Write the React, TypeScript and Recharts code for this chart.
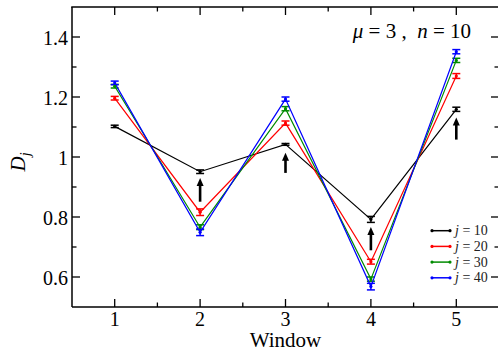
import React from 'react';
import { LineChart, Line, XAxis, YAxis, ErrorBar, ReferenceLine, Label } from 'recharts';

const FONT = '"Liberation Serif", "Times New Roman", serif';

// window index on the x axis
const windows = [1, 2, 3, 4, 5];

// D_j per window, with its error, for each j
const dj10 = [1.102, 0.951, 1.042, 0.792, 1.159];
const err10 = [0.004, 0.006, 0.003, 0.01, 0.007];
const dj20 = [1.196, 0.816, 1.113, 0.651, 1.27];
const err20 = [0.006, 0.011, 0.007, 0.008, 0.008];
const dj30 = [1.236, 0.766, 1.161, 0.593, 1.322];
const err30 = [0.006, 0.008, 0.007, 0.007, 0.007];
const dj40 = [1.247, 0.749, 1.193, 0.568, 1.351];
const err40 = [0.006, 0.011, 0.007, 0.011, 0.007];

// upward arrows under the j = 10 points
const arrowX = [2, 3, 4, 5];
const arrowFrom = [0.851, 0.947, 0.689, 1.058];
const arrowTo = [0.93, 1.014, 0.767, 1.132];

const xDomain = [0.5, 5.5];
const xTicks = [1, 1.5, 2, 2.5, 3, 3.5, 4, 4.5, 5];
const yTicks = [0.6, 0.7, 0.8, 0.9, 1, 1.1, 1.2, 1.3, 1.4];
const yDomain = [0.5, 1.5];

const series = [
  { key: 'j10', err: 'e10', name: 'j = 10', label: '10', color: '#000000' },
  { key: 'j20', err: 'e20', name: 'j = 20', label: '20', color: '#ff0000' },
  { key: 'j30', err: 'e30', name: 'j = 30', label: '30', color: '#008b00' },
  { key: 'j40', err: 'e40', name: 'j = 40', label: '40', color: '#0000ff' },
];

const data = windows.map((w, i) => ({
  w,
  j10: dj10[i], e10: err10[i],
  j20: dj20[i], e20: err20[i],
  j30: dj30[i], e30: err30[i],
  j40: dj40[i], e40: err40[i],
}));

// chart box: left axis width, right axis width and top margin fix the plot frame
const CHART_W = 500;
const CHART_H = 353;
const LEFT_AXIS_W = 72;
const RIGHT_AXIS_W = 1;
const TOP = 7;
const PLOT_LEFT = LEFT_AXIS_W;
const PLOT_RIGHT = CHART_W - RIGHT_AXIS_W;

const isMajorX = (v: number) => Number.isInteger(v);
const isMajorY = (v: number) => Math.round(v * 10) % 2 === 0;

// inward tick marks, labels only on the bottom and left sides
const makeTick = (side: 'bottom' | 'left' | 'right') => (props: any) => {
  const { x, y, payload } = props;
  const v = payload.value as number;
  const major = side === 'bottom' ? isMajorX(v) : isMajorY(v);
  const len = major ? 8 : 4.5;
  let line;
  if (side === 'bottom') line = <line x1={x} y1={y} x2={x} y2={y - len} />;
  else if (side === 'left') line = <line x1={x} y1={y} x2={x + len} y2={y} />;
  else line = <line x1={x} y1={y} x2={x - len} y2={y} />;
  return (
    <g>
      <g stroke="#000" strokeWidth={1.3}>{line}</g>
      {major && side === 'bottom' && (
        <text x={x} y={y + 18.5} textAnchor="middle" fontFamily={FONT} fontSize={20} fill="#000">
          {v}
        </text>
      )}
      {major && side === 'left' && (
        <text x={x - 4} y={y + 7.5} textAnchor="end" fontFamily={FONT} fontSize={20} fill="#000">
          {v === 1 ? '1' : v.toFixed(1)}
        </text>
      )}
    </g>
  );
};

const Arrow = (props: any) => {
  const { x1, y1, x2, y2 } = props;
  const head = 8;
  return (
    <g>
      <line x1={x1} y1={y1} x2={x2} y2={y2 + head - 1} stroke="#000" strokeWidth={2.6} />
      <path d={`M${x2},${y2} L${x2 - 3.5},${y2 + head} L${x2 + 3.5},${y2 + head} Z`} fill="#000" />
    </g>
  );
};

// top frame edge with its ticks, placed with the same x mapping as the plot
const topX = (t: number) => PLOT_LEFT + ((t - xDomain[0]) / (xDomain[1] - xDomain[0])) * (PLOT_RIGHT - PLOT_LEFT);

const Overlay = () => (
  <svg width={498} height={353} style={{ position: 'absolute', left: 0, top: 0, pointerEvents: 'none' }}>
    <line x1={PLOT_LEFT - 0.75} y1={TOP} x2={PLOT_RIGHT} y2={TOP} stroke="#000" strokeWidth={1.5} />
    {xTicks.map((t) => (
      <line
        key={t}
        x1={topX(t)}
        y1={TOP}
        x2={topX(t)}
        y2={TOP + (isMajorX(t) ? 8 : 4.5)}
        stroke="#000"
        strokeWidth={1.3}
      />
    ))}
    <text x={471} y={38} textAnchor="end" fontFamily={FONT} fontSize={21} fill="#000" style={{ whiteSpace: 'pre' }}>
      <tspan fontStyle="italic">μ</tspan> = 3 ,  <tspan fontStyle="italic">n</tspan> = 10
    </text>
    {series.map((s, i) => {
      const y = 230.7 + i * 15.7;
      return (
        <g key={s.key}>
          <line x1={432} y1={y} x2={450} y2={y} stroke={s.color} strokeWidth={1.5} />
          <circle cx={432} cy={y} r={1.6} fill={s.color} />
          <circle cx={450} cy={y} r={1.6} fill={s.color} />
          <text x={455} y={y + 4.5} fontFamily={FONT} fontSize={14} fill="#222">
            <tspan fontStyle="italic">j</tspan> = {s.label}
          </text>
        </g>
      );
    })}
  </svg>
);

const axisLine = { stroke: '#000', strokeWidth: 1.5 };

export default function App() {
  return (
    <div style={{ position: 'fixed', left: 0, top: 0, width: 498, height: 353, overflow: 'hidden', background: '#fff' }}>
      <LineChart width={CHART_W} height={CHART_H} data={data} margin={{ top: TOP, right: 0, bottom: 0, left: 0 }}>
        <XAxis
          dataKey="w"
          type="number"
          domain={xDomain}
          allowDataOverflow
          ticks={xTicks}
          tickSize={0}
          tickMargin={0}
          height={46}
          axisLine={axisLine}
          tick={makeTick('bottom')}
          interval={0}
        >
          <Label
            content={(p: any) => (
              <text x={p.viewBox.x + p.viewBox.width / 2} y={p.viewBox.y + 39.5} textAnchor="middle" fontFamily={FONT} fontSize={21} fill="#000">
                Window
              </text>
            )}
          />
        </XAxis>
        <YAxis
          type="number"
          domain={yDomain}
          allowDataOverflow
          ticks={yTicks}
          tickSize={0}
          tickMargin={0}
          width={LEFT_AXIS_W}
          axisLine={axisLine}
          tick={makeTick('left')}
          interval={0}
        >
          <Label
            content={(p: any) => {
              const cx = 25;
              const cy = p.viewBox.y + p.viewBox.height / 2 + 5;
              return (
                <text transform={`translate(${cx},${cy}) rotate(-90)`} textAnchor="middle" fontFamily={FONT} fontSize={21} fill="#000">
                  <tspan fontStyle="italic">D</tspan>
                  <tspan fontStyle="italic" fontSize={14} dy={5}>j</tspan>
                </text>
              );
            }}
          />
        </YAxis>
        <YAxis
          yAxisId="right"
          orientation="right"
          type="number"
          domain={yDomain}
          allowDataOverflow
          ticks={yTicks}
          tickSize={0}
          tickMargin={0}
          width={RIGHT_AXIS_W}
          axisLine={axisLine}
          tick={makeTick('right')}
          interval={0}
        />
        {series.map((s) => (
          <Line
            key={s.key}
            dataKey={s.key}
            name={s.name}
            stroke={s.color}
            strokeWidth={1.2}
            dot={{ r: 1.6, fill: s.color, stroke: 'none' }}
            activeDot={false}
            isAnimationActive={false}
          >
            <ErrorBar dataKey={s.err} width={4} stroke={s.color} strokeWidth={1.5} direction="y" />
          </Line>
        ))}
        {arrowX.map((x, i) => (
          <ReferenceLine
            key={x}
            segment={[{ x, y: arrowFrom[i] }, { x, y: arrowTo[i] }]}
            shape={Arrow}
            ifOverflow="visible"
          />
        ))}
      </LineChart>
      <Overlay />
    </div>
  );
}
